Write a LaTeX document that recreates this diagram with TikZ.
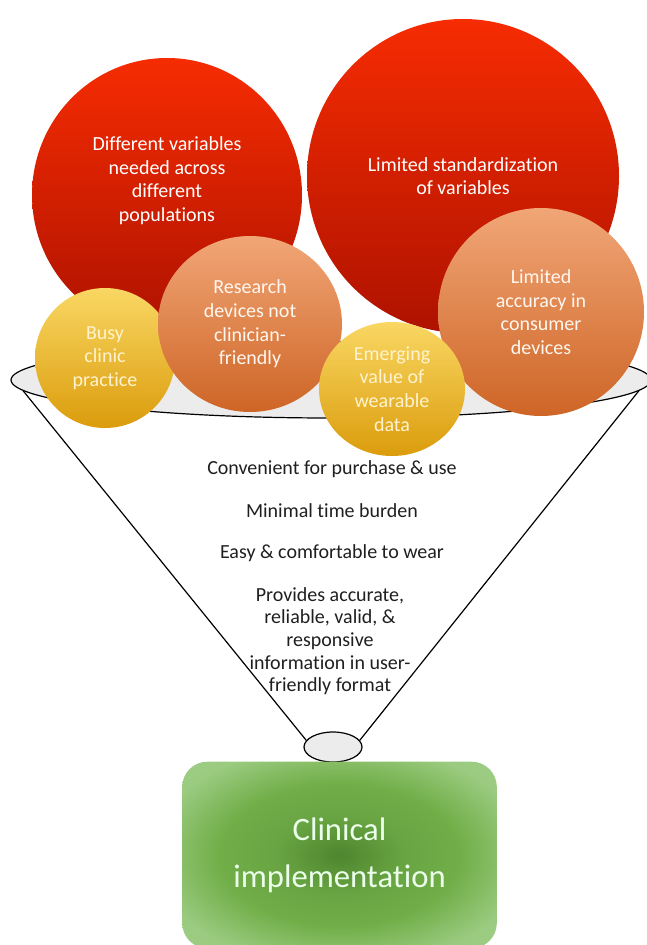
\documentclass[tikz,border=0pt]{standalone}
\usepackage{fontspec}
\setmainfont{Carlito}[Ligatures=NoCommon]
\usetikzlibrary{shapes.geometric}

\definecolor{redtop}{HTML}{F62C02}
\definecolor{redbot}{HTML}{AE1200}
\definecolor{orgtop}{HTML}{F1A677}
\definecolor{orgbot}{HTML}{CE6526}
\definecolor{yeltop}{HTML}{F9D763}
\definecolor{yelbot}{HTML}{DB9C0C}
\definecolor{yeltext}{HTML}{FFF3CF}
\definecolor{rimgray}{HTML}{ECECEC}
\definecolor{grdark}{HTML}{4E852F}
\definecolor{grmid}{HTML}{71AE48}
\definecolor{grlight}{HTML}{9ACB80}

\pgfdeclareradialshading{greenglow}{\pgfpoint{0bp}{0bp}}{color(0bp)=(grdark); color(10bp)=(grmid!75!grdark); color(19bp)=(grmid); color(30bp)=(grlight); color(50bp)=(grlight!85!white)}

\begin{document}
\begin{tikzpicture}[x=0.75pt, y=-0.75pt,
        ball/.style={ellipse, inner sep=0pt, align=center, text=white, font=\fontsize{15}{17.8}\selectfont},
        redball/.style={ball, top color=redtop, bottom color=redbot},
        orangeball/.style={ball, top color=orgtop, bottom color=orgbot, text=white!94!orange},
        yellowball/.style={ball, top color=yeltop, bottom color=yelbot, text=yeltext},
        rim/.style={ellipse, draw=black, line width=0.9pt, fill=rimgray, inner sep=0pt},
        need/.style={align=center, text=black!88, font=\fontsize{15}{17}\selectfont}
    ]
    \useasboundingbox (0,0) rectangle (646,945);

    % funnel
    \node[rim, minimum width=480pt, minimum height=57pt] (top) at (331,380) {};
    \node[rim, minimum width=43.5pt, minimum height=22.5pt] (neck) at (333,747) {};
    \draw[line width=0.9pt] (top.182) -- (neck.166);
    \draw[line width=0.9pt] (top.358) -- (neck.14);

    % barriers
    \node[redball, minimum width=202.5pt, minimum height=205.5pt, text depth=24pt] (diffvar) at (167,195)
        {Different variables\\needed across\\different\\populations};
    \node[redball, minimum width=234pt, minimum height=235.5pt] (standard) at (463,176)
        {Limited standardization\\of variables};
    \node[yellowball, minimum size=105pt] (busy) at (105,358)
        {Busy\\clinic\\practice};
    \node[orangeball, minimum width=138pt, minimum height=132pt] (research) at (250,324)
        {Research\\devices not\\clinician-\\friendly};
    \node[orangeball, minimum width=154.5pt, minimum height=156pt] (accuracy) at (541,312)
        {Limited\\accuracy in\\consumer\\devices};
    \node[yellowball, minimum width=109.5pt, minimum height=100.5pt] (emerging) at (392,389)
        {Emerging\\value of\\wearable\\data};

    % requirements
    \node[need] (convenient) at (332,469) {Convenient for purchase \& use};
    \node[need] (burden) at (332,511) {Minimal time burden};
    \node[need] (wear) at (332,553) {Easy \& comfortable to wear};
    \node[need] (accurate) at (330,641)
        {Provides accurate,\\reliable, valid, \&\\responsive\\information in user-\\friendly format};

    % outcome
    \node[rectangle, rounded corners=19pt, shading=greenglow, minimum width=236pt, minimum height=140pt,
        align=center, text=white!92!green, font=\fontsize{24.5}{35}\selectfont] (clinic) at (339.5,855)
        {Clinical\\implementation};
\end{tikzpicture}
\end{document}
